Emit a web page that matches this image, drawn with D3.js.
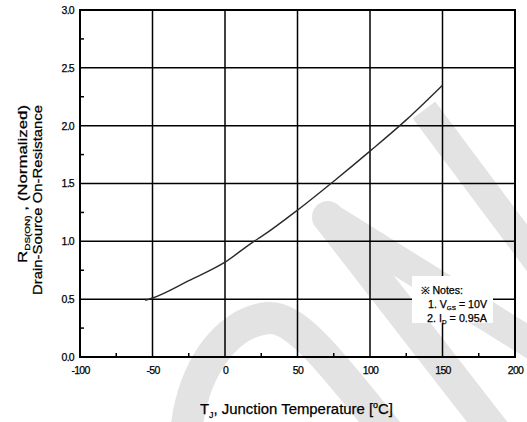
<!DOCTYPE html>
<html><head><meta charset="utf-8">
<script src="https://cdn.jsdelivr.net/npm/d3@7"></script>
<style>
body{margin:0;background:#fff;}
text{font-family:"Liberation Sans",Arial,sans-serif;fill:#000;stroke:#000;stroke-width:0.25px;}
</style>
</head><body>
<svg id="chart" width="527" height="422"></svg>
<script>
// ---- data ----
const temps = [-55, -50, -25, 0, 20, 25, 50, 75, 100, 125, 150];
const rdsOn = [0.49, 0.51, 0.66, 0.82, 1.00, 1.04, 1.27, 1.52, 1.78, 2.05, 2.35];
const xTicks = [-100, -50, 0, 50, 100, 150, 200];
const yTicks = [0.0, 0.5, 1.0, 1.5, 2.0, 2.5, 3.0];
const xMinor = [-75, -25, 25, 75, 125, 175];
const yMinor = [0.25, 0.75, 1.25, 1.75, 2.25, 2.75];
const xDomain = [-100, 200];
const yDomain = [0, 3];

const svg = d3.select("#chart");
const W = 527, H = 422;
const m = {left: 80, right: 12, top: 10, bottom: 65};
const x = d3.scaleLinear().domain(xDomain).range([m.left, W - m.right]);
const y = d3.scaleLinear().domain(yDomain).range([H - m.bottom, m.top]);

// ---- watermark (decorative, behind everything) ----
const wm = svg.append("g").attr("fill", "none").attr("stroke", "#e3e3e3");
wm.append("path").attr("d", "M185,445 C189,370 226,322 268,318 C296,316 330,360 398,445")
  .attr("stroke-width", 32);
wm.append("path").attr("d", "M328,217 L505,445").attr("stroke-width", 32).attr("stroke-linecap", "round");
wm.append("path").attr("d", "M328,217 L545,352").attr("stroke-width", 30).attr("stroke-linecap", "round");
wm.append("path").attr("d", "M424,110 L545,272").attr("stroke-width", 28);

// ---- grid ----
const grid = svg.append("g").attr("stroke", "#000").attr("stroke-width", 1.5);
grid.selectAll("line.v").data(xTicks.slice(1, -1)).join("line").attr("class", "v")
  .attr("x1", d => x(d)).attr("x2", d => x(d)).attr("y1", y(3)).attr("y2", y(0));
grid.selectAll("line.h").data(yTicks.slice(1, -1)).join("line").attr("class", "h")
  .attr("x1", x(-100)).attr("x2", x(200)).attr("y1", d => y(d)).attr("y2", d => y(d));

// minor ticks (inward)
grid.selectAll("line.mx").data(xMinor).join("line").attr("class", "mx")
  .attr("x1", d => x(d)).attr("x2", d => x(d)).attr("y1", y(0)).attr("y2", y(0) - 4);
grid.selectAll("line.my").data(yMinor).join("line").attr("class", "my")
  .attr("x1", x(-100)).attr("x2", x(-100) + 4).attr("y1", d => y(d)).attr("y2", d => y(d));

// frame
svg.append("rect").attr("x", x(-100)).attr("y", y(3))
  .attr("width", x(200) - x(-100)).attr("height", y(0) - y(3))
  .attr("fill", "none").attr("stroke", "#000").attr("stroke-width", 2);

// ---- curve ----
const pts = temps.map((t, i) => [t, rdsOn[i]]);
svg.append("path").datum(pts)
  .attr("fill", "none").attr("stroke", "#2a2a2a").attr("stroke-width", 1.4)
  .attr("d", d3.line().x(d => x(d[0])).y(d => y(d[1])).curve(d3.curveMonotoneX));

// ---- axes labels ----
const xAxis = d3.axisBottom(x).tickValues(xTicks).tickSize(0).tickPadding(10).tickFormat(d => String(d));
const gx = svg.append("g").attr("transform", `translate(0,${y(0)})`).call(xAxis);
gx.select(".domain").remove();
gx.selectAll("text").attr("font-size", 10.5).attr("letter-spacing", -0.7)
  .attr("font-family", "Liberation Sans, Arial, sans-serif").attr("fill", "#000");

const yAxis = d3.axisLeft(y).tickValues(yTicks).tickSize(0).tickPadding(6).tickFormat(d3.format(".1f"));
const gy = svg.append("g").attr("transform", `translate(${x(-100)},0)`).call(yAxis);
gy.select(".domain").remove();
gy.selectAll("text").attr("font-size", 10.5).attr("letter-spacing", -0.7)
  .attr("font-family", "Liberation Sans, Arial, sans-serif").attr("fill", "#000");

// x title
const xt = svg.append("text").attr("x", 200).attr("y", 414).attr("font-size", 15)
  .attr("textLength", 193).attr("lengthAdjust", "spacingAndGlyphs");
xt.append("tspan").text("T");
xt.append("tspan").attr("font-size", 9).attr("dy", 4).text("J");
xt.append("tspan").attr("dy", -4).text(", Junction Temperature [");
xt.append("tspan").attr("font-size", 9).attr("dy", -6).text("o");
xt.append("tspan").attr("dy", 6).text("C]");

// y title (two rotated lines)
const yt1 = svg.append("text").attr("transform", "rotate(-90)")
  .attr("x", -263).attr("y", 27).attr("font-size", 13.5)
  .attr("textLength", 158).attr("lengthAdjust", "spacingAndGlyphs");
yt1.append("tspan").text("R");
yt1.append("tspan").attr("font-size", 8).attr("dy", 3).text("DS(ON)");
yt1.append("tspan").attr("dy", -3).text(" , (Normalized)");

svg.append("text").attr("transform", "rotate(-90)")
  .attr("x", -295).attr("y", 42).attr("font-size", 13.5)
  .attr("textLength", 190).attr("lengthAdjust", "spacingAndGlyphs")
  .text("Drain-Source On-Resistance");

// ---- notes ----
svg.append("rect").attr("x", 412).attr("y", 276).attr("width", 81).attr("height", 47).attr("fill", "#fff");
svg.append("text").attr("x", 421).attr("y", 294).attr("font-size", 10)
  .attr("textLength", 42).attr("lengthAdjust", "spacingAndGlyphs").text("\u203B Notes:");
const n1 = svg.append("text").attr("x", 428).attr("y", 308).attr("font-size", 10)
  .attr("textLength", 59).attr("lengthAdjust", "spacingAndGlyphs");
n1.append("tspan").text("1. V");
n1.append("tspan").attr("font-size", 6).attr("dy", 2).text("GS");
n1.append("tspan").attr("dy", -2).text(" = 10V");
const n2 = svg.append("text").attr("x", 427).attr("y", 322).attr("font-size", 10)
  .attr("textLength", 60).attr("lengthAdjust", "spacingAndGlyphs");
n2.append("tspan").text("2. I");
n2.append("tspan").attr("font-size", 6).attr("dy", 2).text("D");
n2.append("tspan").attr("dy", -2).text(" = 0.95A");
</script>
</body></html>
